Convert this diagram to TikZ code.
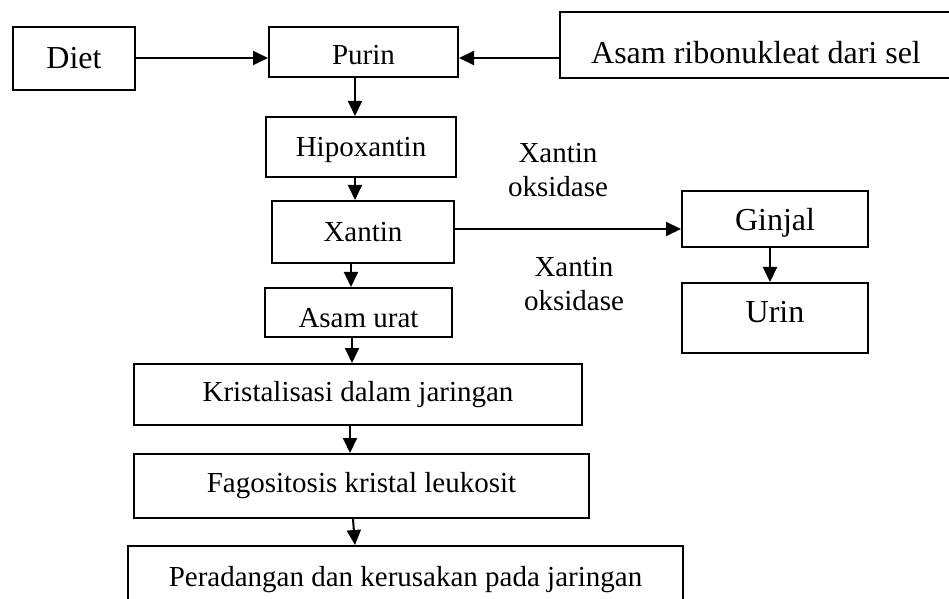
\documentclass[tikz,border=0pt]{standalone}
\usepackage{fontspec}
\setmainfont{Liberation Serif}
\usetikzlibrary{arrows.meta,calc,positioning}

\tikzset{
  box/.style={draw, line width=1pt, inner sep=0pt, font=\fontsize{14.5}{17}\selectfont},
  bigbox/.style={box, font=\fontsize{16}{19}\selectfont},
  lbl/.style={inner sep=0pt, align=center, font=\fontsize{14.5}{17}\selectfont},
  arr/.style={line width=1pt, -{Triangle[length=7.5pt,width=7pt]}}
}

\begin{document}
\begin{tikzpicture}[x=0.5pt,y=-0.5pt]
        \path[use as bounding box, clip] (0,0) rectangle (949,599);

        %% top line
        \node [bigbox, minimum width=61pt, minimum height=31.5pt] (diet) at (74,58.5) {Diet};
        \node [box, minimum width=94.5pt, minimum height=25pt, text height=13pt] (purin) at (363.5,52) {Purin};
        \node [bigbox, minimum width=196pt, minimum height=33pt, text height=18.3pt] (asamrna) at (756,45) {Asam ribonukleat dari sel};

        %% main column
        \node [box, minimum width=95pt, minimum height=30pt, text height=13.1pt, text depth=3.15pt] (hipo) at (361,147) {Hipoxantin};
        \node [box, minimum width=91pt, minimum height=31pt] (xantin) at (363,232) {Xantin};
        \node [box, minimum width=93.5pt, minimum height=24.5pt, text height=14.8pt] (asamurat) at (358.5,312.5) {Asam urat};
        \node [box, minimum width=224pt, minimum height=30.5pt] (kristal) at (358,394.5) {Kristalisasi dalam jaringan};
        \node [box, minimum width=227.5pt, minimum height=32pt] (fago) at (361.5,486) {Fagositosis kristal leukosit};
        \node [box, minimum width=277.5pt, minimum height=34pt] (radang) at (405.5,580) {Peradangan dan kerusakan pada jaringan};

        %% right column
        \node [bigbox, minimum width=93pt, minimum height=28pt, text height=15.4pt, text depth=3.5pt] (ginjal) at (775,219) {Ginjal};
        \node [bigbox, minimum width=93pt, minimum height=35pt, text depth=5.6pt] (urin) at (775,318) {Urin};
        \node [lbl] (oks_up) at (558,170.4) {Xantin\\oksidase};
        \node [lbl] (oks_lo) at (574,284.4) {Xantin\\oksidase};

        \draw[arr] ($(diet.east)+(0,-0.5)$) -- ($(purin.west)+(0,6)$);
        \draw[arr] ($(asamrna.west)+(0,13)$) -- ($(purin.east)+(0,6)$);
        \draw[arr] ($(purin.south)+(-8.5,0)$) -- ($(hipo.north)+(-6,0)$);
        \draw[arr] ($(hipo.south)+(-6,0)$) -- ($(xantin.north)+(-8,0)$);
        \draw[arr] ($(xantin.south)+(-12,0)$) -- ($(asamurat.north)+(-7.5,0)$);
        \draw[arr] ($(asamurat.south)+(-6.5,0)$) -- ($(kristal.north)+(-6,0)$);
        \draw[arr] ($(kristal.south)+(-8,0)$) -- ($(fago.north)+(-11.5,0)$);
        \draw[arr] ($(fago.south)+(-8.5,0)$) -- ($(radang.north)+(-50.5,0)$);
        \draw[arr] ($(xantin.east)+(0,-3)$) -- ($(ginjal.west)+(0,10)$);
        \draw[arr] ($(ginjal.south)+(-5,0)$) -- ($(urin.north)+(-5,0)$);

\end{tikzpicture}
\end{document}
